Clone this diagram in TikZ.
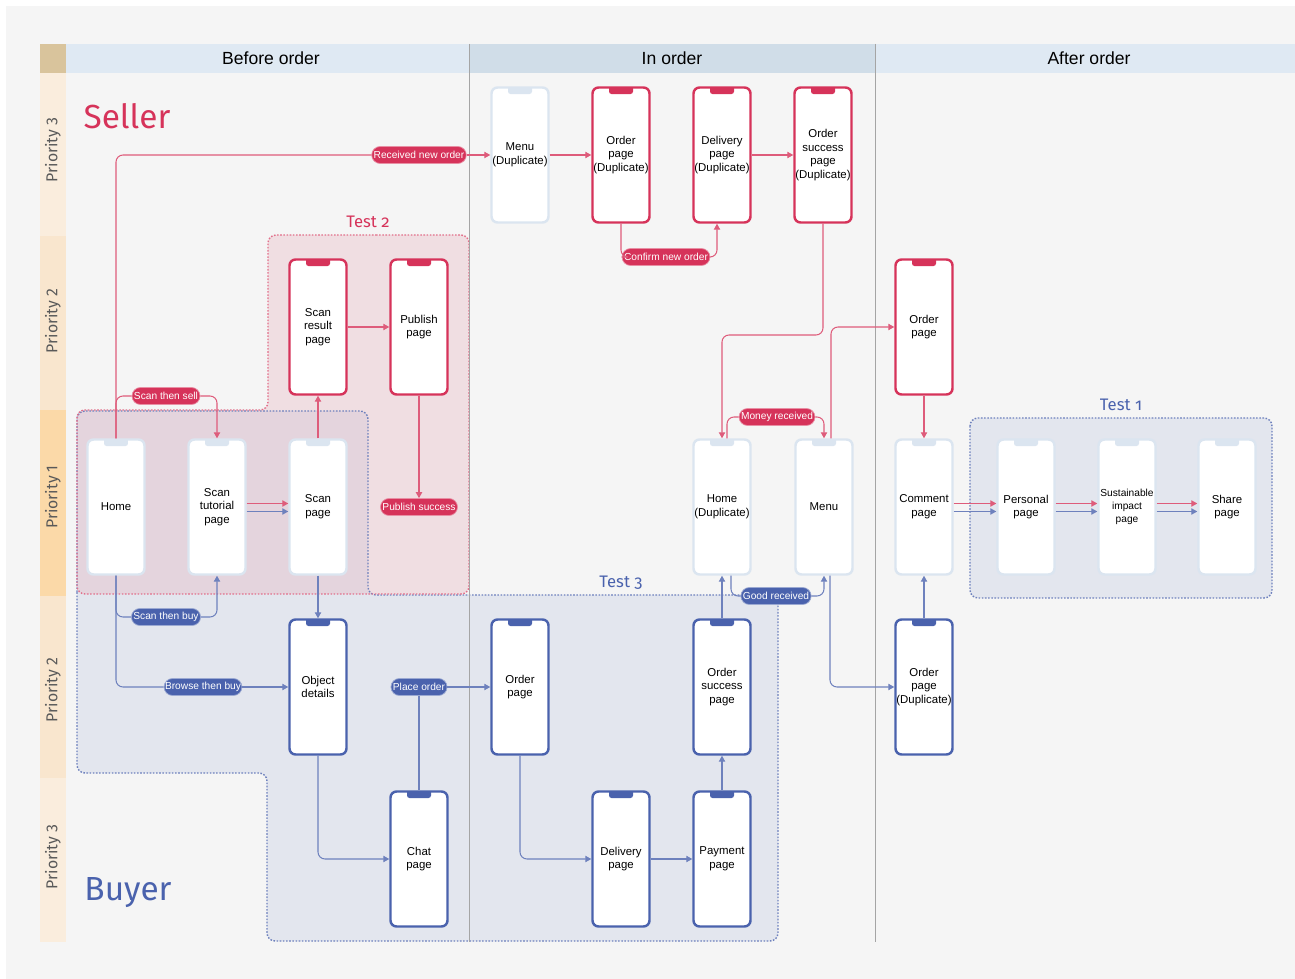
\documentclass[tikz,border=0pt]{standalone}
\usepackage{fontspec}
\setmainfont{Liberation Sans}
\newfontfamily\titlefont{Fira Sans}
\newfontfamily\testfont[Numbers=OldStyle]{Fira Sans}
\usetikzlibrary{arrows.meta, positioning, calc}

\definecolor{sellred}{RGB}{214, 51, 90}
\definecolor{buyblue}{RGB}{74, 98, 173}
\definecolor{palebd}{RGB}{219, 229, 240}
\definecolor{canvas}{RGB}{245, 245, 245}
\definecolor{headlight}{RGB}{223, 233, 243}
\definecolor{headdark}{RGB}{208, 221, 232}
\definecolor{cornerbox}{RGB}{217, 196, 156}
\definecolor{prioone}{RGB}{251, 217, 168}
\definecolor{priotwo}{RGB}{249, 230, 206}
\definecolor{priothree}{RGB}{250, 237, 221}
\definecolor{testblue}{RGB}{227, 230, 238}
\definecolor{testpink}{RGB}{232, 180, 192}
\definecolor{sepgray}{RGB}{165, 165, 165}

\tikzset{
  phone/.style={rectangle, rounded corners=0.12cm, draw=#1, line width=1.4pt, fill=white,
    minimum width=1.14cm, minimum height=2.7cm, inner sep=0pt, text width=1.14cm, align=center,
    font=\fontsize{6.5}{7.8}\selectfont,
    path picture={\fill[#1, rounded corners=0.05cm] ([xshift=-0.24cm,yshift=0.05cm]path picture bounding box.north) rectangle ([xshift=0.24cm,yshift=-0.13cm]path picture bounding box.north);}},
  pill/.style={fill=#1, draw=#1!55!white, line width=0.4pt, text=white, rounded corners=0.17cm,
    minimum height=0.34cm, inner xsep=0.04cm, inner ysep=0pt, font=\fontsize{5.8}{6.2}\selectfont},
  redline/.style={draw=sellred!80!white, line width=0.6pt, rounded corners=0.14cm},
  blueline/.style={draw=buyblue!80!white, line width=0.6pt, rounded corners=0.14cm},
  testzone/.style={draw=#1, line width=0.8pt, dash pattern=on 0.9pt off 0.9pt, rounded corners=0.16cm},
  headtext/.style={font=\fontsize{10}{12}\selectfont},
  priotext/.style={rotate=90, text=black!65, font=\titlefont\fontsize{9}{10}\selectfont},
  testlabel/.style={text=#1, font=\testfont\fontsize{9.5}{11}\selectfont}
}

\begin{document}
\begin{tikzpicture}[x=0.02cm, y=-0.02cm, >={Triangle[width=3.6pt,length=3.4pt]}]
  \useasboundingbox (0,0) rectangle (1295,979);
  \fill[white] (0,0) rectangle (1295,979);
  \fill[canvas] (6,6) rectangle (1295,979);

  % header row and priority lanes
  \fill[cornerbox] (40,44) rectangle (66,73);
  \fill[headlight] (66,44) rectangle (469,73);
  \fill[headdark] (469,44) rectangle (875,73);
  \fill[headlight] (875,44) rectangle (1295,73);
  \node[headtext] (hbefore) at (271,58) {Before order};
  \node[headtext] (hin) at (672,58) {In order};
  \node[headtext] (hafter) at (1089,58) {After order};

  \fill[priothree] (40,73) rectangle (66,236);
  \fill[priotwo] (40,236) rectangle (66,410);
  \fill[prioone] (40,410) rectangle (66,596);
  \fill[priotwo] (40,596) rectangle (66,778);
  \fill[priothree] (40,778) rectangle (66,942);
  \node[priotext] (pthreeS) at (53,150) {Priority 3};
  \node[priotext] (ptwoS) at (53,321) {Priority 2};
  \node[priotext] (pone) at (53,497) {Priority 1};
  \node[priotext] (ptwoB) at (53,690) {Priority 2};
  \node[priotext] (pthreeB) at (53,857) {Priority 3};

  \node[text=sellred, font=\titlefont\fontsize{19}{22}\selectfont] (seller) at (127,116) {Seller};
  \node[text=buyblue, font=\titlefont\fontsize{19}{22}\selectfont] (buyer) at (128,893) {Buyer};

  % test zones
  \fill[testblue, rounded corners=0.16cm] (77,600) -- (77,411) -- (368,411) -- (368,595) -- (778,595)
    -- (778,941) -- (267,941) -- (267,773) -- (77,773) -- cycle;
  \fill[testpink, fill opacity=0.35, rounded corners=0.16cm] (368,235) -- (469,235) -- (469,594)
    -- (77,594) -- (77,410) -- (268,410) -- (268,235) -- cycle;
  \draw[testzone=buyblue!80] (77,600) -- (77,411) -- (368,411) -- (368,595) -- (778,595) -- (778,941)
    -- (267,941) -- (267,773) -- (77,773) -- cycle;
  \draw[testzone=sellred!70] (368,235) -- (469,235) -- (469,594) -- (77,594) -- (77,410)
    -- (268,410) -- (268,235) -- cycle;
  \filldraw[testzone=buyblue!80, fill=testblue] (970,418) rectangle (1272,598);
  \node[testlabel=sellred] (ttwo) at (368,222) {Test 2};
  \node[testlabel=buyblue] (tthree) at (621,583) {Test 3};
  \node[testlabel=buyblue] (tone) at (1121,405) {Test 1};

  \draw[sepgray, line width=0.5pt] (469,44) -- (469,942);
  \draw[sepgray, line width=0.5pt] (875,44) -- (875,942);

  % phones
  \node[phone=palebd] (mdup) at (520,155) {Menu\\(Duplicate)};
  \node[phone=sellred] (odup) at (621,155) {Order\\page\\(Duplicate)};
  \node[phone=sellred] (ddup) at (722,155) {Delivery\\page\\(Duplicate)};
  \node[phone=sellred] (sdup) at (823,155) {Order\\success\\page\\(Duplicate)};

  \node[phone=sellred] (sres) at (318,327) {Scan\\result\\page};
  \node[phone=sellred] (pub) at (419,327) {Publish\\page};
  \node[phone=sellred] (oaft) at (924,327) {Order\\page};

  \node[phone=palebd] (home) at (116,507) {Home};
  \node[phone=palebd] (tut) at (217,507) {Scan\\tutorial\\page};
  \node[phone=palebd] (scan) at (318,507) {Scan\\page};
  \node[phone=palebd] (hdup) at (722,507) {Home\\(Duplicate)};
  \node[phone=palebd] (menu) at (824,507) {Menu};
  \node[phone=palebd] (comm) at (924,507) {Comment\\page};
  \node[phone=palebd] (pers) at (1026,507) {Personal\\page};
  \node[phone=palebd, font=\fontsize{5.8}{7.2}\selectfont] (sust) at (1127,507) {Sustainable\\impact\\page};
  \node[phone=palebd] (share) at (1227,507) {Share\\page};

  \node[phone=buyblue] (obj) at (318,687) {Object\\details};
  \node[phone=buyblue] (obuy) at (520,687) {Order\\page};
  \node[phone=buyblue] (sbuy) at (722,687) {Order\\success\\page};
  \node[phone=buyblue] (opdup) at (924,687) {Order\\page\\(Duplicate)};

  \node[phone=buyblue] (chat) at (419,859) {Chat\\page};
  \node[phone=buyblue] (deliv) at (621,859) {Delivery\\page};
  \node[phone=buyblue] (pay) at (722,859) {Payment\\page};

  % pills
  \node[pill=sellred] (recv) at (419,155) {Received new order};
  \node[pill=sellred] (confirm) at (666,257) {Confirm new order};
  \node[pill=sellred] (ssell) at (166,396) {Scan then sell};
  \node[pill=sellred] (psucc) at (419,507) {Publish success};
  \node[pill=sellred] (money) at (777,417) {Money received};
  \node[pill=buyblue] (stbuy) at (166,617) {Scan then buy};
  \node[pill=buyblue, inner xsep=0.02cm] (browse) at (203,687) {Browse then buy};
  \node[pill=buyblue] (place) at (419,687) {Place order};
  \node[pill=buyblue] (good) at (776,596) {Good received};
  \coordinate (bendA) at (775,335);

  % seller flow
  \draw[redline] (home.north) |- (recv.west);
  \draw[redline,->] (recv.east) -- (mdup.west);
  \draw[redline,->] (mdup.east) -- (odup.west);
  \draw[redline] (odup.south) |- (confirm.west);
  \draw[redline,->] (confirm.east) -| ([xshift=-0.1cm]ddup.south);
  \draw[redline,->] (ddup.east) -- (sdup.west);
  \draw[redline,->] (sdup.south) |- (bendA) -| (hdup.north);
  \draw[redline] ([xshift=0.1cm]hdup.north) |- (money.west);
  \draw[redline,->] (money.east) -| (menu.north);
  \draw[redline,->] ([xshift=0.14cm]menu.north) |- (oaft.west);
  \draw[redline,->] (oaft.south) -- (comm.north);
  \draw[redline] (home.north) |- (ssell.west);
  \draw[redline,->] (ssell.east) -| (tut.north);
  \draw[redline,->] ([yshift=0.07cm]tut.east) -- ([yshift=0.07cm]scan.west);
  \draw[redline,->] (scan.north) -- (sres.south);
  \draw[redline,->] (sres.east) -- (pub.west);
  \draw[redline,->] (pub.south) -- (psucc.north);

  % buyer flow
  \draw[blueline] (home.south) |- (stbuy.west);
  \draw[blueline,->] (stbuy.east) -| (tut.south);
  \draw[blueline] (home.south) |- (browse.west);
  \draw[blueline,->] (browse.east) -- (obj.west);
  \draw[blueline,->] ([yshift=-0.09cm]tut.east) -- ([yshift=-0.09cm]scan.west);
  \draw[blueline,->] (scan.south) -- (obj.north);
  \draw[blueline,->] (obj.south) |- (chat.west);
  \draw[blueline] (chat.north) -- (place.south);
  \draw[blueline,->] (place.east) -- (obuy.west);
  \draw[blueline,->] (obuy.south) |- (deliv.west);
  \draw[blueline,->] (deliv.east) -- (pay.west);
  \draw[blueline,->] (pay.north) -- (sbuy.south);
  \draw[blueline,->] (sbuy.north) -- (hdup.south);
  \draw[blueline] ([xshift=0.18cm]hdup.south) |- (good.west);
  \draw[blueline,->] (good.east) -| (menu.south);
  \draw[blueline,->] ([xshift=0.12cm]menu.south) |- (opdup.west);
  \draw[blueline,->] (opdup.north) -- (comm.south);

  % shared after-order steps
  \foreach \a/\b in {comm/pers, pers/sust, sust/share} {
    \draw[redline,->] ([yshift=0.07cm]\a.east) -- ([yshift=0.07cm]\b.west);
    \draw[blueline,->] ([yshift=-0.09cm]\a.east) -- ([yshift=-0.09cm]\b.west);
  }
\end{tikzpicture}
\end{document}
